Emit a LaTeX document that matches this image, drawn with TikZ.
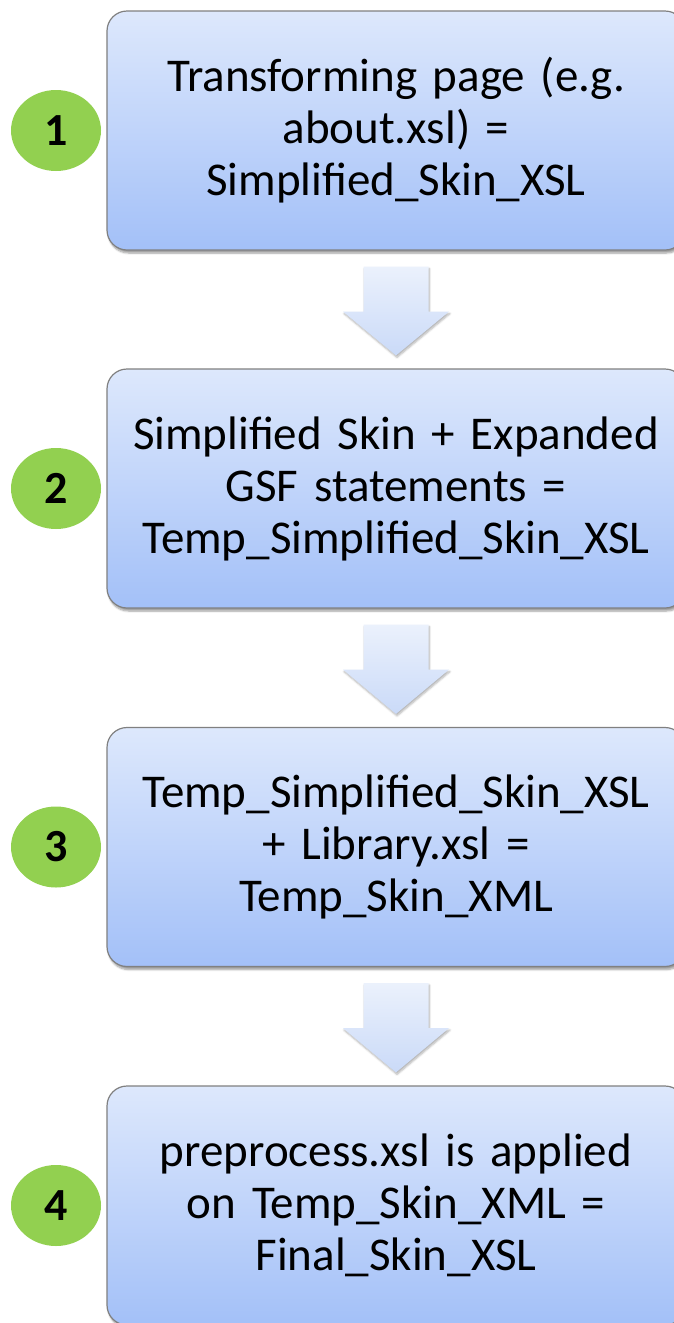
\documentclass[tikz,border=0pt]{standalone}
\usepackage{fontspec}
\setmainfont{Carlito}
\usetikzlibrary{calc,shapes.geometric,shadows.blur}

\definecolor{boxtop}{HTML}{DDE8FC}
\definecolor{boxbot}{HTML}{A3C0F8}
\definecolor{arrtop}{HTML}{EBF1FC}
\definecolor{arrbot}{HTML}{CADAF8}
\definecolor{numgreen}{HTML}{92D050}

\tikzset{
  stepbox/.style={rectangle,rounded corners=20pt,draw=black!50,line width=1.2pt,
    top color=boxtop,bottom color=boxbot,minimum width=578pt,minimum height=239pt,
    text width=560pt,align=center,inner sep=0,
    font=\fontsize{47}{52}\selectfont,
    blur shadow={shadow xshift=1.5pt,shadow yshift=-3pt,shadow blur steps=6,shadow opacity=40}},
  numdot/.style={ellipse,fill=numgreen,minimum width=90pt,minimum height=81pt,inner sep=0,
    font=\fontsize{46}{48}\selectfont\bfseries},
  flowarrow/.style={top color=arrtop,bottom color=arrbot,
    blur shadow={shadow xshift=1pt,shadow yshift=-2pt,shadow blur steps=5,shadow opacity=30}}
}

\begin{document}
\begin{tikzpicture}[x=1pt,y=-1pt]
  \useasboundingbox (0,0) rectangle (673,1323);

  \node[stepbox] (s1) at (396,130.5) {Transforming page (e.g.\\about.xsl) =\\Simplified\_Skin\_XSL};
  \node[stepbox] (s2) at (396,488.5) {Simplified Skin + Expanded\\GSF statements =\\Temp\_Simplified\_Skin\_XSL};
  \node[stepbox] (s3) at (396,847) {Temp\_Simplified\_Skin\_XSL\\+ Library.xsl =\\Temp\_Skin\_XML};
  \node[stepbox] (s4) at (396,1205.5) {preprocess.xsl is applied\\on Temp\_Skin\_XML =\\Final\_Skin\_XSL};

  \node[numdot] (n1) at (56,130.5) {1};
  \node[numdot] (n2) at (56,488.5) {2};
  \node[numdot] (n3) at (56,847) {3};
  \node[numdot] (n4) at (56,1205.5) {4};

  % block arrows hanging below each box
  \foreach \a/\b in {s1/s2,s2/s3,s3/s4}{
    \path[flowarrow]
      ($(\a.south)+(-32.5,16)$) -- ($(\a.south)+(32.5,16)$) -- ($(\a.south)+(32.5,61)$)
      -- ($(\a.south)+(53,61)$) -- ($(\b.north)+(0,-13)$) -- ($(\a.south)+(-53,61)$)
      -- ($(\a.south)+(-32.5,61)$) -- cycle;
  }
\end{tikzpicture}
\end{document}
